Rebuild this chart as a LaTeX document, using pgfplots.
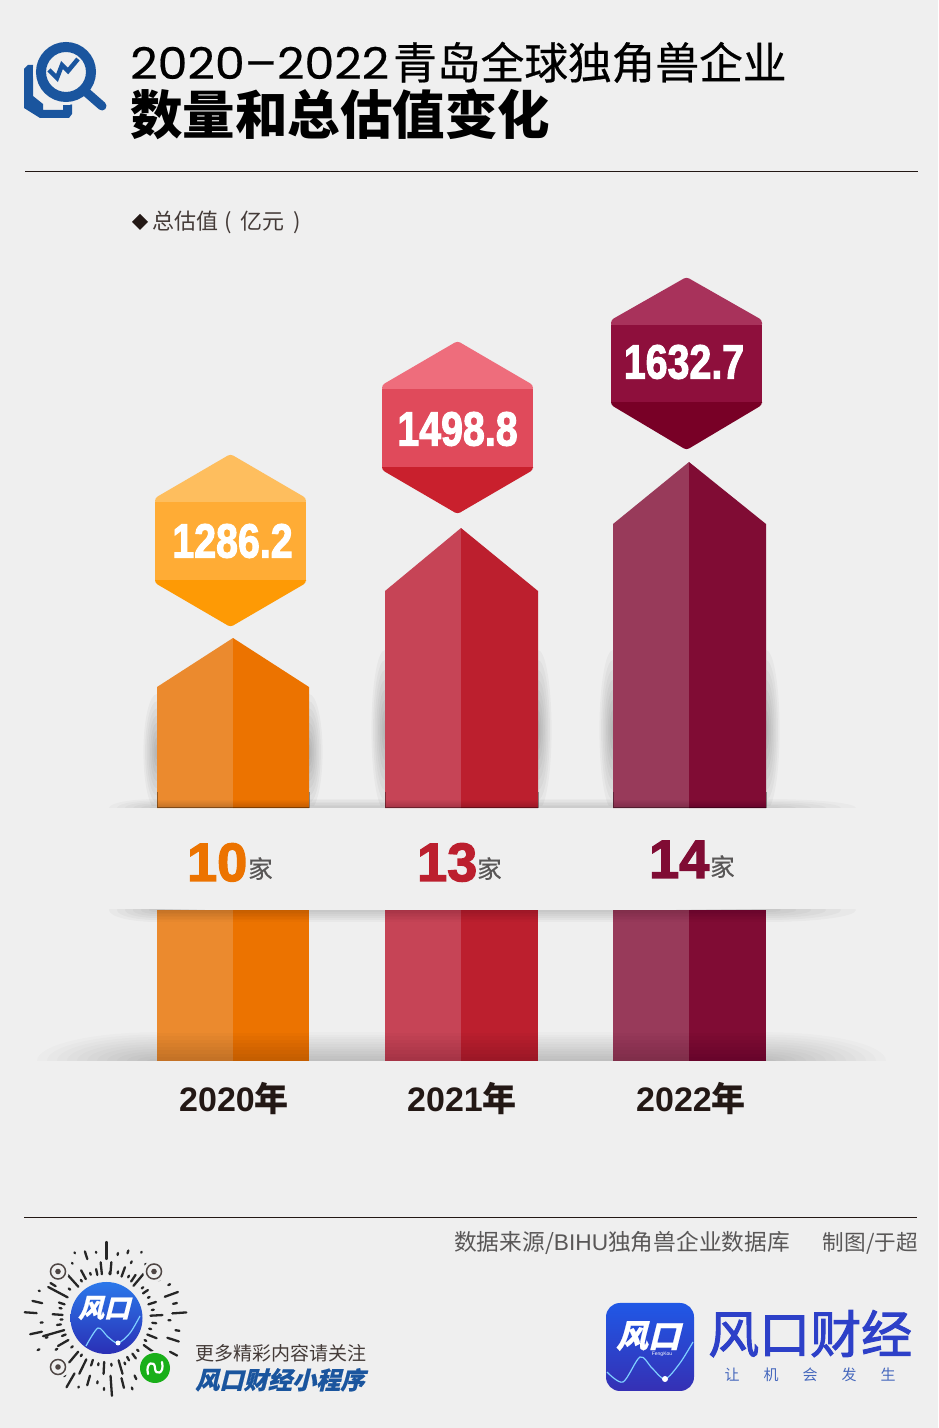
\documentclass[border=0pt]{standalone}
\usepackage{pgfplots}
\pgfplotsset{compat=1.18}
\usepackage{fontspec}
\setmainfont{Noto Sans CJK SC}
\newfontfamily\numfont[FakeBold=2.5]{Liberation Sans Bold}
\newfontfamily\latfont{Liberation Sans}
\newfontfamily\popfont[FakeBold=.4]{Poppins}
\newfontfamily\cjkmed[FakeBold=.5]{Noto Sans CJK SC}
\newfontfamily\cjkhv[FakeBold=2]{Noto Sans CJK SC}
\newfontfamily\slantcjk[BoldFeatures={FakeSlant=0.25,FakeBold=0.6}]{Noto Sans CJK SC}
\definecolor{bg}{HTML}{EFEFEF}
\definecolor{ink}{HTML}{231815}
\definecolor{greyt}{HTML}{595757}
\definecolor{iconb}{HTML}{1A559E}
\definecolor{oL}{HTML}{EB8A2E}\definecolor{oR}{HTML}{EC7300}
\definecolor{rL}{HTML}{C64456}\definecolor{rR}{HTML}{BC1F2E}
\definecolor{pL}{HTML}{983A5A}\definecolor{pR}{HTML}{800C34}
\definecolor{h1a}{HTML}{FEBE5E}\definecolor{h1b}{HTML}{FFAC35}\definecolor{h1c}{HTML}{FE9A05}
\definecolor{h2a}{HTML}{EE6D7C}\definecolor{h2b}{HTML}{E04A5B}\definecolor{h2c}{HTML}{C9202D}
\definecolor{h3a}{HTML}{A8325B}\definecolor{h3b}{HTML}{8E0F3C}\definecolor{h3c}{HTML}{780026}
\definecolor{brandT}{HTML}{2058E6}\definecolor{brandB}{HTML}{3530B4}
\definecolor{qrT}{HTML}{2B78EA}\definecolor{qrB}{HTML}{2A2FB5}
\definecolor{wavec}{HTML}{7FD0FF}
\newcommand{\T}[5][ink]{\node[anchor=#2,inner sep=0pt,text=#1] at (#3) {#4#5};}
\begin{document}
\begin{tikzpicture}
\path[use as bounding box] (0,0) rectangle (938pt,1428pt);
\begin{scope}[x=1pt,y=-1pt,yshift=1428pt]
\fill[bg] (0,0) rectangle (938,1428);
% side shadows of the columns
\begin{scope}
\clip (0,0) rectangle (938,806);
\foreach \cx/\cy/\ry in {157/752/58,309/752/58,385/730/80,538/730/80,613/730/80,766/730/80}{
  \foreach \i in {1,...,8}{
    \fill[black,opacity=.03] (\cx,\cy) ellipse ({1.7*\i} and {\ry*\i/8});
  }
}
\end{scope}
% floor shadows
\begin{scope}\clip (0,780) rectangle (938,808);
\foreach \i in {1,...,6}{
  \fill[black,opacity=.025] (157,808) ellipse ({8*\i} and {1.5*\i});
  \fill[black,opacity=.025] (766,808) ellipse ({15*\i} and {1.5*\i});
  \fill[black,opacity=.025] (157,808) rectangle (766,{808-1.5*\i});
}
\end{scope}
\begin{scope}\clip (0,910) rectangle (938,945);
\foreach \i in {1,...,6}{
  \fill[black,opacity=.028] (157,910) ellipse ({8*\i} and {2*\i});
  \fill[black,opacity=.028] (766,910) ellipse ({15*\i} and {2*\i});
  \fill[black,opacity=.028] (157,910) rectangle (766,{910+2*\i});
}
\end{scope}
\begin{scope}\clip (0,1020) rectangle (938,1061);
\foreach \i in {1,...,12}{
  \fill[black,opacity=.015] (157,1061) ellipse ({10*\i} and {2.4*\i});
  \fill[black,opacity=.015] (766,1061) ellipse ({10*\i} and {2.4*\i});
  \fill[black,opacity=.015] (157,1061) rectangle (766,{1061-2.4*\i});
}
\end{scope}
\end{scope}
\begin{axis}[
  at={(0,0)},anchor=south west,
  scale only axis,width=938pt,height=1428pt,
  xmin=0,xmax=938,ymin=0,ymax=1428,y dir=reverse,
  hide axis,clip=false]
% column 2020
\addplot[fill=oL,draw=none] coordinates {(157,808)(157,687)(233,638)(233,808)} --cycle;
\addplot[fill=oR,draw=none] coordinates {(233,808)(233,638)(309,687)(309,808)} --cycle;
\addplot[fill=oL,draw=none] coordinates {(157,1061)(157,910)(233,910)(233,1061)} --cycle;
\addplot[fill=oR,draw=none] coordinates {(233,1061)(233,910)(309,910)(309,1061)} --cycle;
% column 2021
\addplot[fill=rL,draw=none] coordinates {(385,808)(385,591)(461,528)(461,808)} --cycle;
\addplot[fill=rR,draw=none] coordinates {(461,808)(461,528)(538,591)(538,808)} --cycle;
\addplot[fill=rL,draw=none] coordinates {(385,1061)(385,910)(461,910)(461,1061)} --cycle;
\addplot[fill=rR,draw=none] coordinates {(461,1061)(461,910)(538,910)(538,1061)} --cycle;
% column 2022
\addplot[fill=pL,draw=none] coordinates {(613,808)(613,524)(689,462)(689,808)} --cycle;
\addplot[fill=pR,draw=none] coordinates {(689,808)(689,462)(766,524)(766,808)} --cycle;
\addplot[fill=pL,draw=none] coordinates {(613,1061)(613,910)(689,910)(689,1061)} --cycle;
\addplot[fill=pR,draw=none] coordinates {(689,1061)(689,910)(766,910)(766,1061)} --cycle;
% hexagons
\addplot[fill=h1a,draw=none,rounded corners=3pt] coordinates {(230.5,454)(306,498)(306,504)(155,504)(155,498)} --cycle;
\addplot[fill=h1c,draw=none,rounded corners=3pt] coordinates {(155,578)(306,578)(306,583)(230.5,627)(155,583)} --cycle;
\addplot[fill=h1b,draw=none] coordinates {(155,502)(306,502)(306,580)(155,580)} --cycle;
\addplot[fill=h2a,draw=none,rounded corners=3pt] coordinates {(457.5,341)(533,385)(533,391)(382,391)(382,385)} --cycle;
\addplot[fill=h2c,draw=none,rounded corners=3pt] coordinates {(382,465)(533,465)(533,470)(457.5,514)(382,470)} --cycle;
\addplot[fill=h2b,draw=none] coordinates {(382,389)(533,389)(533,467)(382,467)} --cycle;
\addplot[fill=h3a,draw=none,rounded corners=3pt] coordinates {(686.5,277)(762,320)(762,327)(611,327)(611,320)} --cycle;
\addplot[fill=h3c,draw=none,rounded corners=3pt] coordinates {(611,400)(762,400)(762,405)(686.5,450)(611,405)} --cycle;
\addplot[fill=h3b,draw=none] coordinates {(611,325)(762,325)(762,402)(611,402)} --cycle;
\end{axis}
\begin{scope}[x=1pt,y=-1pt,yshift=1428pt]
% darkening at the band edges and the floor
\foreach \xa/\xb in {157/309,385/538,613/766}{
  \foreach \i in {1,...,8}{
    \fill[black,opacity=.02] (\xa,808) rectangle (\xb,808-\i);
    \fill[black,opacity=.02] (\xa,910) rectangle (\xb,{910+1.5*\i});
  }
  \foreach \i in {1,...,8}{
    \fill[black,opacity=.02] (\xa,1061) rectangle (\xb,{1061-3.5*\i});
  }
  \draw[black,opacity=.35,line width=1pt] (\xa,792)--(\xa,808)--(\xb,808)--(\xb,792);
}
% title
\node[anchor=base west,inner sep=0pt,text=black,xscale=1.09] at (130,79) {\fontsize{43.7}{44}\selectfont\popfont 2020–2022};
\T[black]{base west}{393,79}{\fontsize{43.7}{44}\selectfont\cjkmed}{青岛全球独角兽企业}
\T[black]{base west}{130,135}{\fontsize{52.5}{53}\selectfont\bfseries}{数量和总估值变化}
\draw[ink,line width=1pt] (25,172)--(918,172);
% icon
\fill[iconb] (24,69) -- (28,65) -- (33,65) -- (33,96) -- (43,104) -- (43,110) -- (63,110) -- (63,101) -- (72,99) -- (72,114) -- (69,118) -- (40,118) -- (24,108) -- cycle;
\fill[bg] (66,72) circle (33);
\draw[iconb,line width=10pt] (66,72) circle (25);
\draw[iconb,line width=9pt,line cap=round] (86,92) -- (102,106);
\draw[iconb,line width=4.5pt,line join=miter] (49,70) -- (57,78) -- (62,65) -- (68,71) -- (78,59);
% legend
\fill[ink] (140,214) -- (148,222) -- (140,230) -- (132,222) -- cycle;
\T[ink!85]{base west}{152,230}{\fontsize{22}{22}\selectfont}{总估值}
\T[ink!85]{base west}{224,230}{\fontsize{22}{22}\selectfont}{(}
\T[ink!85]{base west}{240,230}{\fontsize{22}{22}\selectfont}{亿元}
\T[ink!85]{base west}{293,230}{\fontsize{22}{22}\selectfont}{)}
% value labels
\node[text=white,inner sep=0pt,xscale=.82] at (232.5,541) {\fontsize{48}{48}\selectfont\numfont 1286.2};
\node[text=white,inner sep=0pt,xscale=.82] at (457.5,429) {\fontsize{48}{48}\selectfont\numfont 1498.8};
\node[text=white,inner sep=0pt,xscale=.82] at (684,362) {\fontsize{48}{48}\selectfont\numfont 1632.7};
% counts
\T[oR]{base west}{187,881}{\fontsize{54}{54}\selectfont\numfont}{10}
\T[greyt]{base west}{248,878}{\fontsize{24.5}{25}\selectfont\cjkmed}{家}
\T[rR]{base west}{417,881}{\fontsize{54}{54}\selectfont\numfont}{13}
\T[greyt]{base west}{477,878}{\fontsize{24.5}{25}\selectfont\cjkmed}{家}
\T[pR]{base west}{649,878}{\fontsize{54}{54}\selectfont\numfont}{14}
\T[greyt]{base west}{710,876}{\fontsize{24.5}{25}\selectfont\cjkmed}{家}
% years
\T{base west}{179,1112}{\fontsize{34}{34}\selectfont\bfseries}{{\latfont\bfseries 2020}年}
\T{base west}{407,1112}{\fontsize{34}{34}\selectfont\bfseries}{{\latfont\bfseries 2021}年}
\T{base west}{636,1112}{\fontsize{34}{34}\selectfont\bfseries}{{\latfont\bfseries 2022}年}
% footer
\draw[ink,line width=1pt] (24,1218)--(917,1218);
\T[greyt]{base east}{790,1251}{\fontsize{22.7}{23}\selectfont}{数据来源/{\latfont BIHU}独角兽企业数据库}
\T[greyt]{base east}{918,1251}{\fontsize{21.6}{23}\selectfont}{制图/于超}
\T[ink!85]{base west}{195,1361}{\fontsize{19}{19}\selectfont}{更多精彩内容请关注}
\T[iconb]{base west}{195,1389}{\fontsize{24.2}{25}\selectfont\slantcjk\bfseries}{风口财经小程序}
% mini-program code
\begin{scope}[shift={(106.5,1318)}]
\foreach \a/\ra/\rb in {
 -90/59/76,-80/64/66,-72/68/71,-66/60/62,-62/74/75,-54/66/67,-48/72/74,-99/66/67,-108/62/70,-116/72/73,-122/64/65,
 -138/68/69,-148/60/66,-158/72/73,-167/66/76,-176/70/82,-184/64/66,-192/66/78,-198/62/64,-205/74/76,
 -212/58/60,-218/66/68,-226/62/74,-234/70/72,-240/64/80,-248/74/75,-254/60/70,-262/64/66,-268/70/72,-274/58/78,-284/62/72,-290/74/76,
 -296/64/68,-306/70/71,-314/66/67,-322/60/62,-332/72/80,-342/64/76,-350/70/74,-358/62/64,-364/66/80,-12/68/72,
 -20/62/76,-28/70/72,-36/64/66,-44/72/74,-85/44/56,-76/46/48,-70/44/54,-62/46/48,-56/44/52,-50/42/58,-40/46/48,-34/44/50,
 -26/46/48,-18/44/52,-10/46/48,-3/44/56,6/46/50,14/44/46,22/44/54,30/44/46,36/46/58,46/44/46,54/44/50,62/44/48,68/48/50,
 74/44/58,84/46/48,93/44/56,100/46/48,108/44/50,116/46/62,124/44/46,130/44/58,140/44/46,150/44/56,158/44/48,164/44/66,
 172/46/50,178/44/46,184/44/54,192/46/48,198/44/50,208/44/66,218/46/48,228/42/64,236/44/46,242/44/54,250/46/48,258/44/50,264/44/56,274/44/46}{
 \draw[black!85,line width=2.3pt,line cap=round] (\a:\ra) -- (\a:\rb);
}
\end{scope}
\foreach \p in {{58,1271.5},{154,1271.5},{58,1367}}{
 \fill[bg] (\p) circle (11);
 \draw[ink!80,line width=1.5pt] (\p) circle (7.5);
 \fill[ink!80] (\p) circle (2.8);
}
\shade[top color=qrT,bottom color=qrB] (106.5,1318) circle (36);
\draw[wavec,line width=1.2pt,smooth] plot coordinates {(86,1346)(98,1328)(108,1337)(118,1343)(130,1333)(140,1316)};
\fill[white] (118,1343) circle (2.5);
\node[text=white,inner sep=0pt] at (104,1308) {\fontsize{26}{26}\selectfont\slantcjk\bfseries 风口};
\fill[bg] (155,1368) circle (17);
\fill[green!65!black!90!white] (155,1368) circle (15);
\draw[white,line width=2.2pt,line cap=round] (148,1374) .. controls (145,1362) and (155,1360) .. (155,1368) .. controls (155,1376) and (165,1374) .. (162,1362);
% brand logo
\shade[top color=brandT,bottom color=brandB,rounded corners=14pt] (606,1303) rectangle (694,1391);
\draw[wavec,line width=1.2pt,smooth] plot coordinates {(607,1372)(623,1382)(640,1357)(652,1368)(665,1379)(680,1363)(693,1342)};
\fill[white] (665,1379) circle (3);
\node[text=white,inner sep=0pt] at (648,1336) {\fontsize{32}{32}\selectfont\slantcjk\bfseries 风口};
\node[text=white,inner sep=0pt] at (662,1354) {\fontsize{5}{5}\selectfont\latfont FengKou};
\T[brandB!60!brandT]{base west}{708,1353}{\fontsize{51}{51}\selectfont\cjkhv}{风口财经}
\foreach \x/\c in {732/让,771/机,810/会,849/发,888/生}{
 \node[text=brandT!60!gray,inner sep=0pt] at (\x,1375) {\fontsize{15}{15}\selectfont\c};
}
\end{scope}
\end{tikzpicture}
\end{document}
